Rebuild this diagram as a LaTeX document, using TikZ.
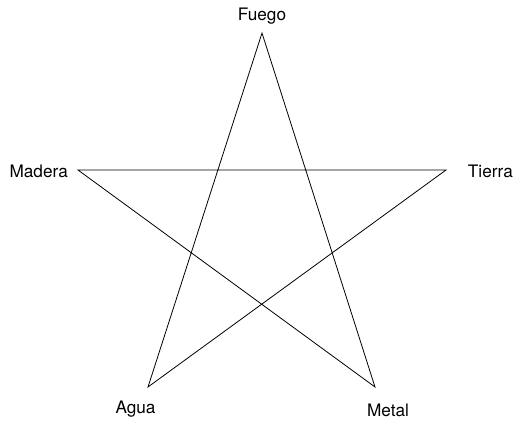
\documentclass[tikz,border=0pt]{standalone}
\usepackage{fontspec}
\setmainfont{TeX Gyre Heros}
\begin{document}
\begin{tikzpicture}[x=1pt,y=-1pt,
  lbl/.style={inner sep=0pt,font=\fontsize{17.2}{20}\selectfont},
  edge/.style={draw=black,line width=0.8pt,line join=miter}]
\useasboundingbox (0,0) rectangle (515,421);
\coordinate (F) at (262,33);
\coordinate (Ma) at (78,170);
\coordinate (T) at (446,170);
\coordinate (A) at (148,387);
\coordinate (Me) at (375,387);
\node[lbl,anchor=base] (fuego) at (262,20) {Fuego};
\node[lbl,anchor=base east] (madera) at (68,177) {Madera};
\node[lbl,anchor=base east] (tierra) at (513,177) {Tierra};
\node[lbl,anchor=base] (agua) at (135.5,413) {Agua};
\node[lbl,anchor=base] (metal) at (388,416) {Metal};
\draw[edge] (F) -- (A) -- (T) -- (Ma) -- (Me) -- cycle;
\end{tikzpicture}
\end{document}
